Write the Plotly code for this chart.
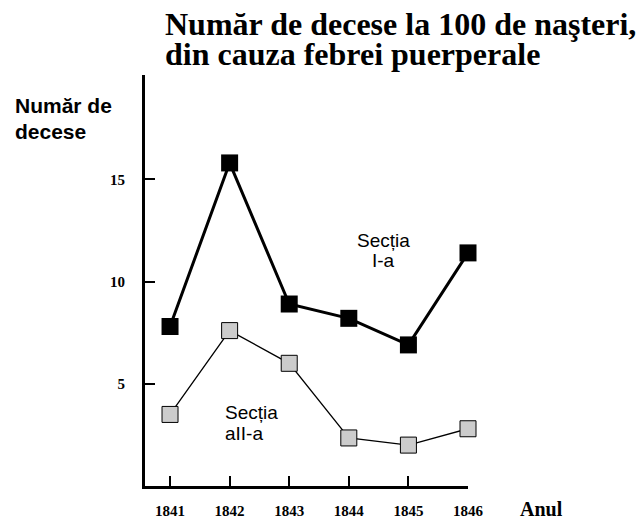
import plotly.graph_objects as go

years = [1841, 1842, 1843, 1844, 1845, 1846]
sectia_1 = [7.8, 15.8, 8.9, 8.2, 6.9, 11.4]
sectia_2 = [3.5, 7.6, 6.0, 2.35, 2.0, 2.8]
y_ticks = [5, 10, 15]

title_lines = ["Număr de decese la 100 de naşteri,", "din cauza febrei puerperale"]
ylabel_lines = ["Număr de", "decese"]
label_1 = ["Secția", "I-a"]
label_2 = ["Secția", "aII-a"]

SERIF = "Liberation Serif, Times New Roman, serif"
SANS = "Liberation Sans, Arial, sans-serif"

fig = go.Figure()
fig.add_trace(go.Scatter(
    x=years, y=sectia_2, mode="lines+markers",
    line=dict(color="black", width=1.3),
    marker=dict(symbol="square", size=16, color="#cccccc",
                line=dict(color="black", width=1)),
    cliponaxis=False, showlegend=False, hoverinfo="skip"))
fig.add_trace(go.Scatter(
    x=years, y=sectia_1, mode="lines+markers",
    line=dict(color="black", width=3),
    marker=dict(symbol="square", size=17, color="black",
                line=dict(color="black", width=0)),
    cliponaxis=False, showlegend=False, hoverinfo="skip"))

ann = []
for txt, yp in zip(title_lines, [1.1236, 1.0506]):
    ann.append(dict(text=txt, xref="paper", yref="paper", x=0.0557, y=yp,
                    xanchor="left", yanchor="middle", showarrow=False,
                    font=dict(family=SERIF, size=32, color="black", weight="bold")))
for txt, yp in zip(ylabel_lines, [0.9260, 0.8637]):
    ann.append(dict(text=txt, xref="paper", yref="paper", x=-0.4087, y=yp,
                    xanchor="left", yanchor="middle", showarrow=False,
                    font=dict(family=SANS, size=21, color="black", weight="bold")))
ann.append(dict(text="Anul", xref="paper", yref="paper", x=1.1540, y=-0.0560,
                xanchor="left", yanchor="middle", showarrow=False,
                font=dict(family=SERIF, size=20, color="black", weight="bold")))
for txt, yd in zip(label_1, [12.03, 11.04]):
    ann.append(dict(text=txt, xref="x", yref="y", x=1844.59, y=yd,
                    xanchor="center", yanchor="middle", showarrow=False,
                    font=dict(family=SANS, size=19, color="black")))
for txt, yd in zip(label_2, [3.59, 2.55]):
    ann.append(dict(text=txt, xref="x", yref="y", x=1841.89, y=yd,
                    xanchor="left", yanchor="middle", showarrow=False,
                    font=dict(family=SANS, size=19, color="black")))

fig.update_layout(
    width=641, height=517,
    margin=dict(l=145, r=173, t=75, b=31, autoexpand=False),
    paper_bgcolor="white", plot_bgcolor="white",
    xaxis=dict(range=[1840.58, 1846], tickvals=years, ticktext=[str(y) for y in years],
               showline=True, linecolor="black", linewidth=3, ticks="inside",
               ticklen=10, tickwidth=2, tickcolor="black", showgrid=False, zeroline=False,
               tickfont=dict(family=SERIF, size=15, color="black", weight="bold"),
               ticklabelstandoff=9, automargin=False, fixedrange=True),
    yaxis=dict(range=[0, 20.1], tickvals=y_ticks, ticktext=[str(v) for v in y_ticks],
               showline=True, linecolor="black", linewidth=3, ticks="inside",
               ticklen=10, tickwidth=2, tickcolor="black", showgrid=False, zeroline=False,
               tickfont=dict(family=SERIF, size=15, color="black", weight="bold"),
               ticklabelstandoff=14, automargin=False, fixedrange=True),
    annotations=ann,
)

fig.write_html("out.html", config={"displayModeBar": False},
               post_script="document.body.style.margin='0';")
